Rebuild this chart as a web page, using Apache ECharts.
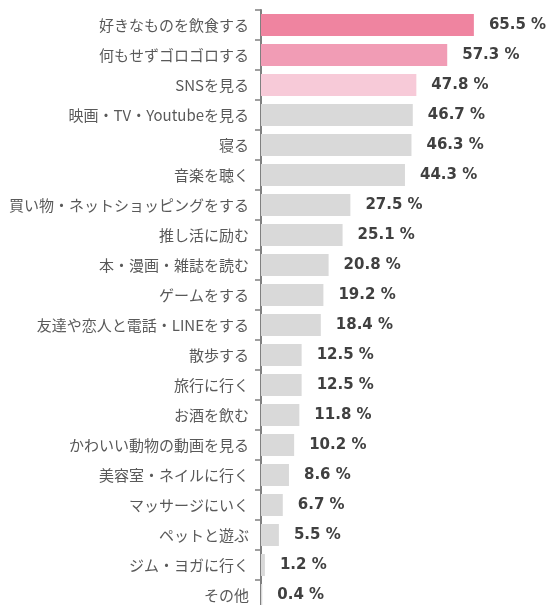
<!DOCTYPE html>
<html><head><meta charset="utf-8">
<script src="https://cdn.jsdelivr.net/npm/echarts@6/dist/echarts.min.js"></script>
<style>html,body{margin:0;padding:0;background:#fff}#c{width:552px;height:605px}</style>
</head><body><div id="c"></div>
<script>
const categories = ["好きなものを飲食する","何もせずゴロゴロする","SNSを見る","映画・TV・Youtubeを見る","寝る","音楽を聴く","買い物・ネットショッピングをする","推し活に励む","本・漫画・雑誌を読む","ゲームをする","友達や恋人と電話・LINEをする","散歩する","旅行に行く","お酒を飲む","かわいい動物の動画を見る","美容室・ネイルに行く","マッサージにいく","ペットと遊ぶ","ジム・ヨガに行く","その他"];
const values = [65.5,57.3,47.8,46.7,46.3,44.3,27.5,25.1,20.8,19.2,18.4,12.5,12.5,11.8,10.2,8.6,6.7,5.5,1.2,0.4];
const barColors = ["#EF84A0","#F19CB5","#F7CAD8"];
const otherColor = "#D9D9D9";

const chart = echarts.init(document.getElementById('c'));
chart.setOption({
  animation:false,
  grid:{left:261,right:31,top:10,bottom:-5,containLabel:false,outerBoundsMode:'none'},
  xAxis:{type:'value',min:0,max:80,show:false},
  yAxis:{type:'category',inverse:true,data:categories,
    axisLine:{show:true,lineStyle:{color:'#808080',width:2}},
    axisTick:{show:true,length:6,lineStyle:{color:'#808080',width:1.5}},
    axisLabel:{color:'#595959',fontSize:15,margin:12,fontFamily:'"Noto Sans CJK JP", sans-serif'}
  },
  series:[{type:'bar',barWidth:22,
    data:values.map((v,i)=>({value:v,itemStyle:{color:barColors[i]||otherColor}})),
    label:{show:true,position:'right',distance:15,color:'#404040',fontSize:15,fontWeight:'bold',
      fontFamily:'Verdana, "DejaVu Sans", sans-serif',formatter:p=>p.value.toFixed(1)+' %'}
  }]
});
</script></body></html>
